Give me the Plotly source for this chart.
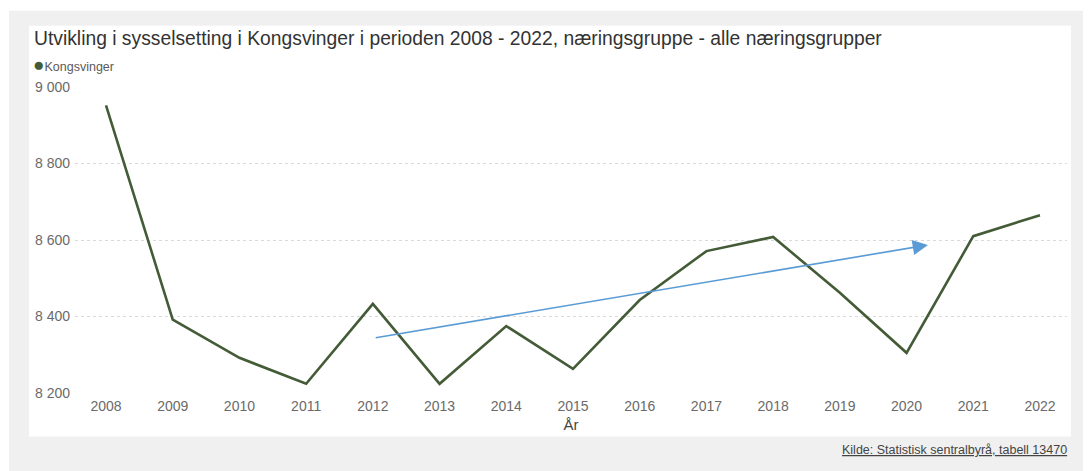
import plotly.graph_objects as go

# ---- data ----
years = [2008, 2009, 2010, 2011, 2012, 2013, 2014, 2015, 2016, 2017, 2018, 2019, 2020, 2021, 2022]
employment = [8952, 8392, 8292, 8224, 8433, 8224, 8375, 8263, 8443, 8571, 8608, 8462, 8305, 8610, 8665]
series_name = "Kongsvinger"
y_tickvals = [8200, 8400, 8600, 8800, 9000]
y_ticktext = ["8 200", "8 400", "8 600", "8 800", "9 000"]
x_ticktext = [str(y) for y in years]
trend_start = [2012.02, 8344]
trend_end = [2020.32, 8587]

title_text = "Utvikling i sysselsetting i Kongsvinger i perioden 2008 - 2022, næringsgruppe - alle næringsgrupper"
x_title = "År"
source_text = "Kilde: Statistisk sentralbyrå, tabell 13470"

# ---- layout geometry (page pixels; page body has an 8px margin) ----
OFF = 8
W, H = 1091 - OFF, 471 - OFF
PL, PR, PT, PB = 75 - OFF, 1067 - OFF, 86.5 - OFF, 393.3 - OFF


def px(x):
    return (x - OFF - PL) / (PR - PL)


def py(y):
    return (PB - (y - OFF)) / (PB - PT)


FONT = "Liberation Sans, Arial, sans-serif"
LINE = "#435b36"
TICK = "#6a6a6a"

fig = go.Figure()
fig.add_trace(go.Scatter(
    x=years, y=employment, mode="lines", name=series_name,
    line=dict(color=LINE, width=2.6), showlegend=False,
))

fig.update_layout(
    width=W, height=H,
    margin=dict(l=PL, r=W - PR, t=PT, b=H - PB),
    paper_bgcolor="white",
    plot_bgcolor="rgba(0,0,0,0)",
    font=dict(family=FONT, color=TICK),
    xaxis=dict(
        range=[2007.535, 2022.405], tickvals=years, ticktext=x_ticktext,
        showgrid=False, zeroline=False, showline=False, ticks="",
        tickfont=dict(size=14, color=TICK), ticklabelstandoff=3,
        title=dict(text=x_title, font=dict(size=15, color="#444444"), standoff=6),
        fixedrange=True,
    ),
    yaxis=dict(
        range=[8200, 9000], tickvals=y_tickvals, ticktext=y_ticktext,
        showgrid=True, gridcolor="#d9d9d9", griddash="dot", gridwidth=1,
        zeroline=False, showline=False, ticks="",
        tickfont=dict(size=14, color=TICK), ticklabelstandoff=4,
        fixedrange=True,
    ),
    shapes=[
        dict(type="rect", xref="paper", yref="paper", layer="below",
             x0=px(9), x1=px(1100), y0=py(10), y1=py(480),
             fillcolor="#f0f0f0", line=dict(width=0)),
        dict(type="rect", xref="paper", yref="paper", layer="below",
             x0=px(29), x1=px(1071), y0=py(25), y1=py(437),
             fillcolor="white", line=dict(width=0)),
    ],
    annotations=[
        dict(text=title_text, xref="paper", yref="paper", x=px(32), y=py(38),
             xanchor="left", yanchor="middle", showarrow=False,
             font=dict(size=19.3, color="#333333", family=FONT)),
        dict(text=f"<span style='color:{LINE};font-size:19px'>●</span>{series_name}",
             xref="paper", yref="paper", x=px(31), y=py(64),
             xanchor="left", yanchor="middle", showarrow=False,
             font=dict(size=12.5, color="#5a5a5a", family=FONT)),
        dict(text=f"<u>{source_text}</u>", xref="paper", yref="paper",
             x=px(1069), y=py(450), xanchor="right", yanchor="middle",
             showarrow=False, font=dict(size=12.5, color="#444444", family=FONT)),
        dict(x=trend_end[0], y=trend_end[1], ax=trend_start[0], ay=trend_start[1],
             xref="x", yref="y", axref="x", ayref="y", text="",
             showarrow=True, arrowhead=2, arrowsize=1.9, arrowwidth=1.6,
             arrowcolor="#5b9bd5", standoff=0),
    ],
)

fig.write_html("out.html")
